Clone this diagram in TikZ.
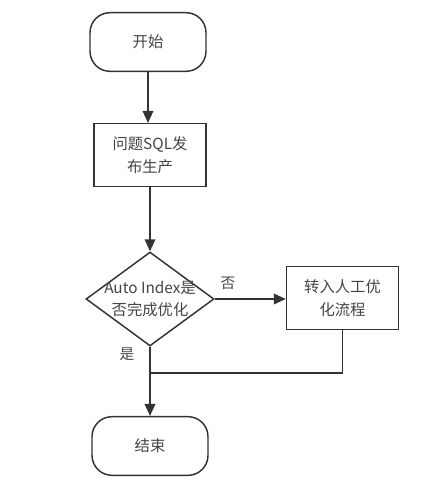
\documentclass[tikz,border=0pt]{standalone}
\usepackage{fontspec}
\setmainfont{Noto Sans CJK SC}
\usetikzlibrary{shapes.geometric,arrows.meta}
\definecolor{ln}{HTML}{333333}
\definecolor{tx}{HTML}{444444}
\tikzset{
  px/.style={x=0.75pt,y=-0.75pt},
  term/.style={draw=ln,line width=1.1pt,rounded corners=15pt,minimum width=87pt,minimum height=44pt,inner sep=0pt,text=tx,font=\fontsize{11.5pt}{14pt}\selectfont},
  proc/.style={draw=ln,line width=1.1pt,minimum width=84pt,minimum height=47pt,inner sep=0pt,align=center,text=tx,font=\fontsize{11.5pt}{17pt}\selectfont},
  dec/.style={draw=ln,line width=1.1pt,diamond,minimum width=96pt,minimum height=70.5pt,aspect=1.36,inner sep=0pt,align=center,text=tx,font=\fontsize{11.5pt}{17pt}\selectfont},
  conn/.style={draw=ln,line width=1.1pt,-{Triangle[length=9pt,width=8pt]}},
  plain/.style={draw=ln,line width=1.1pt},
  lbl/.style={text=tx,font=\fontsize{11pt}{12pt}\selectfont,inner sep=0pt}
}
\begin{document}
\begin{tikzpicture}[px]
\useasboundingbox (0,0) rectangle (422,488);
\node[term] (start) at (148,42) {开始};
\node[proc] (p1) at (150,155) {问题SQL发\\布生产};
\node[dec] (d) at (150,299) {};
\node[text=tx,align=center,font=\fontsize{11.5pt}{17pt}\selectfont] (dt) at (150,299) {Auto Index是\\否完成优化};
\node[proc] (p2) at (342.5,298) {转入人工优\\化流程};
\node[term] (end) at (150,446) {结束};
\coordinate (j) at (150,373);
\coordinate (c) at (p2.south |- j);
\draw[conn] (start.south) -- (start.south |- p1.north);
\draw[conn] (p1.south) -- (d.north);
\draw[conn] (d.east) -- (p2.west |- d.east);
\draw[plain] (p2.south) -- (c) -- (j);
\draw[conn] (d.south) -- (end.north);
\node[lbl] (no) at (228,283) {否};
\node[lbl] (yes) at (127,354) {是};
\end{tikzpicture}
\end{document}
